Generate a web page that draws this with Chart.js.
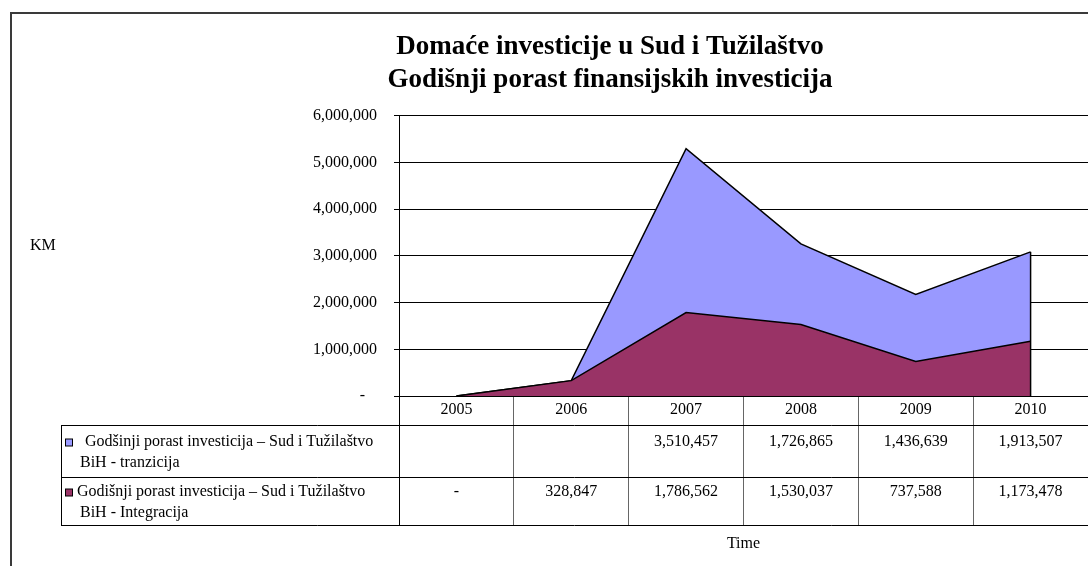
<!DOCTYPE html>
<html lang="bs">
<head>
<meta charset="UTF-8">
<title>Domaće investicije u Sud i Tužilaštvo</title>
<script src="https://cdn.jsdelivr.net/npm/chart.js"></script>
<style>
    html, body { margin: 0; padding: 0; background: #fff; overflow: hidden; }
    .wrap { width: 1088px; height: 566px; overflow: hidden; }
</style>
</head>
<body>
<div class="wrap"><canvas id="chart" width="1220" height="566"></canvas></div>
<script>
    // data
    const years = ['2005', '2006', '2007', '2008', '2009', '2010'];
    const tranzicija = [null, null, 3510457, 1726865, 1436639, 1913507];
    const integracija = [0, 328847, 1786562, 1530037, 737588, 1173478];
    const yTicks = [0, 1000000, 2000000, 3000000, 4000000, 5000000, 6000000];
    const titleLines = ['Domaće investicije u Sud i Tužilaštvo', 'Godišnji porast finansijskih investicija'];
    const tranzicijaLabel = [' Godšinji porast investicija – Sud i Tužilaštvo', 'BiH - tranzicija'];
    const integracijaLabel = ['Godišnji porast investicija – Sud i Tužilaštvo', 'BiH - Integracija'];

    const serif = '"Liberation Serif", "Times New Roman", serif';
    const blue = '#9999FF';
    const plum = '#993366';

    function fmt(v) {
        if (v === null) return '';
        if (v === 0) return '-';
        return v.toLocaleString('en-US');
    }

    // rows of the data table under the chart
    const tableRows = [
        { label: tranzicijaLabel, color: blue, values: tranzicija, textY: 442, labelX: 81 },
        { label: integracijaLabel, color: plum, values: integracija, textY: 492, labelX: 77 }
    ];

    const dataTable = {
        id: 'dataTable',
        afterDraw(chart) {
            const { ctx, chartArea, scales: { x, y } } = chart;
            const right = chartArea.right;
            ctx.save();

            // outer frame of the chart (only left and top edges are in view)
            ctx.strokeStyle = '#3a3a3a';
            ctx.lineWidth = 2;
            ctx.strokeRect(11, 13, 1300, 700);

            // closing edge of the stacked area at the last year
            const last = years.length - 1;
            const lastX = x.getPixelForValue(last);
            ctx.strokeStyle = '#000';
            ctx.lineWidth = 1.5;
            ctx.beginPath();
            ctx.moveTo(lastX, y.getPixelForValue(integracija[last] + (tranzicija[last] ?? 0)));
            ctx.lineTo(lastX, y.getPixelForValue(0));
            ctx.stroke();

            // table lines
            ctx.lineWidth = 1;
            ctx.beginPath();
            [425.5, 477.5, 525.5].forEach(yy => {
                ctx.moveTo(61, yy);
                ctx.lineTo(right, yy);
            });
            ctx.moveTo(61.5, 425);
            ctx.lineTo(61.5, 526);
            ctx.moveTo(chartArea.left + 0.5, chartArea.bottom);
            ctx.lineTo(chartArea.left + 0.5, 526);
            ctx.stroke();

            ctx.fillStyle = '#000';
            ctx.font = '16px ' + serif;
            ctx.textBaseline = 'middle';

            tableRows.forEach(row => {
                // values
                ctx.textAlign = 'center';
                row.values.forEach((v, i) => {
                    ctx.fillText(fmt(v), x.getPixelForValue(i), row.textY);
                });

                // legend key
                ctx.fillStyle = row.color;
                ctx.fillRect(65.5, row.textY - 3, 7, 7);
                ctx.strokeStyle = '#000';
                ctx.strokeRect(65.5, row.textY - 3, 7, 7);

                ctx.fillStyle = '#000';
                ctx.textAlign = 'left';
                ctx.fillText(row.label[0], row.labelX, row.textY);
                ctx.fillText(row.label[1], 80, row.textY + 21);
            });

            // unit label on the left
            ctx.textAlign = 'left';
            ctx.fillText('KM', 30, 246);

            ctx.restore();
        }
    };

    new Chart(document.getElementById('chart'), {
        type: 'line',
        data: {
            labels: years,
            datasets: [
                {
                    label: integracijaLabel.join(' '),
                    data: integracija,
                    backgroundColor: plum,
                    borderColor: '#000',
                    borderWidth: 1.5,
                    fill: 'origin',
                    pointRadius: 0,
                    tension: 0
                },
                {
                    label: tranzicijaLabel.join(' ').trim(),
                    data: tranzicija.map(v => v ?? 0),
                    backgroundColor: blue,
                    borderColor: '#000',
                    borderWidth: 1.5,
                    fill: '-1',
                    pointRadius: 0,
                    tension: 0
                }
            ]
        },
        options: {
            responsive: false,
            animation: false,
            layout: { padding: 0 },
            plugins: {
                legend: { display: false },
                tooltip: { enabled: false },
                title: {
                    display: true,
                    text: titleLines,
                    color: '#000',
                    font: { family: serif, size: 27, weight: 'bold', lineHeight: 1.22 },
                    padding: { top: 31, bottom: 19 }
                }
            },
            scales: {
                x: {
                    offset: true,
                    afterFit(scale) { scale.height = 170; },
                    grid: {
                        drawOnChartArea: false,
                        offset: true,
                        tickLength: 130,
                        color: '#666'
                    },
                    border: { display: true, color: '#000', width: 1 },
                    ticks: {
                        padding: -126,
                        color: '#000',
                        font: { family: serif, size: 16 }
                    },
                    title: {
                        display: true,
                        text: 'Time',
                        color: '#000',
                        font: { family: serif, size: 16 },
                        padding: { top: 0, bottom: 13 }
                    }
                },
                y: {
                    stacked: true,
                    min: yTicks[0],
                    max: yTicks[yTicks.length - 1],
                    afterFit(scale) { scale.width = 399; },
                    afterBuildTicks(scale) { scale.ticks = yTicks.map(v => ({ value: v })); },
                    grid: { color: '#000', tickLength: 5 },
                    border: { display: true, color: '#000', width: 1 },
                    ticks: {
                        padding: 17,
                        color: '#000',
                        font: { family: serif, size: 16 },
                        callback: v => v === 0 ? '-   ' : v.toLocaleString('en-US')
                    }
                },
                // empty box on the right: the chart frame runs past the window edge
                spare: {
                    position: 'right',
                    display: true,
                    afterFit(scale) { scale.width = 132; },
                    grid: { display: false },
                    border: { display: false },
                    ticks: { display: false }
                }
            }
        },
        plugins: [dataTable]
    });
</script>
</body>
</html>
